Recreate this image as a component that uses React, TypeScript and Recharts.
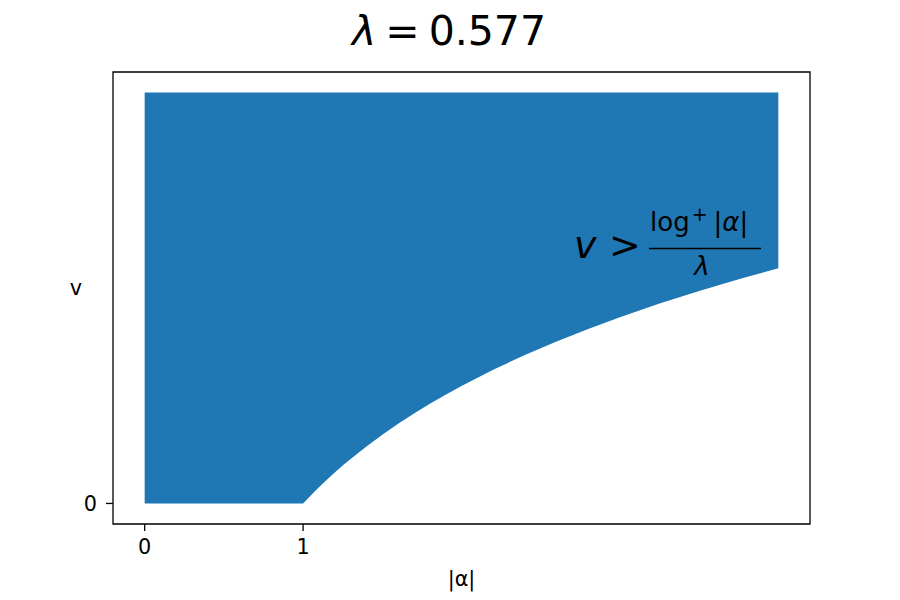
import { AreaChart, Area, XAxis, YAxis, ReferenceArea } from "recharts";

// |alpha| sample positions and the band bounds for v
const alphaAbs = [0, 0.5, 1, 1.02, 1.05, 1.1, 1.15, 1.2, 1.25, 1.3, 1.4, 1.5, 1.6, 1.7, 1.8, 1.9, 2, 2.2, 2.4, 2.6, 2.8, 3, 3.25, 3.5, 3.75, 4];
const vLower = [0, 0, 0, 0.034, 0.085, 0.165, 0.242, 0.316, 0.387, 0.455, 0.583, 0.703, 0.815, 0.92, 1.019, 1.112, 1.201, 1.367, 1.517, 1.656, 1.784, 1.904, 2.043, 2.171, 2.291, 2.403];
const vUpper = [4.2, 4.2, 4.2, 4.2, 4.2, 4.2, 4.2, 4.2, 4.2, 4.2, 4.2, 4.2, 4.2, 4.2, 4.2, 4.2, 4.2, 4.2, 4.2, 4.2, 4.2, 4.2, 4.2, 4.2, 4.2, 4.2];
const xTicks = [0, 1];
const yTicks = [0];
const xDomain = [-0.2, 4.2];
const yDomain = [-0.21, 4.41];

const data = alphaAbs.map((x, i) => ({ x, band: [vLower[i], vUpper[i]] }));

const FONT = "'DejaVu Sans', sans-serif";
const tickStyle = { fontSize: 20.8, fill: "#000", fontFamily: FONT };

export default function App() {
  return (
    <div style={{ position: "absolute", left: 0, top: 0, width: 900, height: 600, background: "#fff" }}>
      <AreaChart
        width={900}
        height={600}
        data={data}
        margin={{ top: 72, right: 90, bottom: 26, left: 53 }}
      >
        <XAxis
          dataKey="x"
          type="number"
          domain={xDomain}
          ticks={xTicks}
          allowDataOverflow
          height={50}
          tick={tickStyle}
          tickSize={7}
          tickMargin={8}
          axisLine={false}
          tickLine={{ stroke: "#000", strokeWidth: 1.3 }}
        />
        <YAxis
          type="number"
          domain={yDomain}
          ticks={yTicks}
          allowDataOverflow
          width={60}
          tick={tickStyle}
          tickSize={7}
          tickMargin={9}
          axisLine={false}
          tickLine={{ stroke: "#000", strokeWidth: 1.3 }}
        />
        <Area
          dataKey="band"
          type="linear"
          fill="#1f77b4"
          fillOpacity={1}
          stroke="none"
          isAnimationActive={false}
        />
        <ReferenceArea
          x1={xDomain[0]}
          x2={xDomain[1]}
          y1={yDomain[0]}
          y2={yDomain[1]}
          fill="none"
          stroke="#000"
          strokeWidth={1.3}
          ifOverflow="visible"
        />
      </AreaChart>
      <svg
        width={900}
        height={600}
        style={{ position: "absolute", left: 0, top: 0, pointerEvents: "none" }}
        fontFamily={FONT}
      >
        <text x={352} y={45} fontSize={41}>
          <tspan fontStyle="italic">λ</tspan>
          <tspan dx={9}>=</tspan>
          <tspan dx={9}>0.577</tspan>
        </text>
        <text x={461.5} y={586} textAnchor="middle" fontSize={20.8}>|α|</text>
        <text x={76} y={295} textAnchor="middle" fontSize={20.8}>v</text>
        <text x={574} y={258} fontSize={38} fontStyle="italic">v</text>
        <text x={609} y={258} fontSize={38}>&gt;</text>
        <text x={650} y={231} fontSize={26}>
          log
          <tspan fontSize={19} dx={2} dy={-10}>+</tspan>
          <tspan dx={6} dy={10}>|</tspan>
          <tspan fontStyle="italic">α</tspan>
          <tspan>|</tspan>
        </text>
        <line x1={649} x2={761} y1={248.5} y2={248.5} stroke="#000" strokeWidth={1.6} />
        <text x={702} y={275} textAnchor="middle" fontSize={26} fontStyle="italic">λ</text>
      </svg>
    </div>
  );
}
